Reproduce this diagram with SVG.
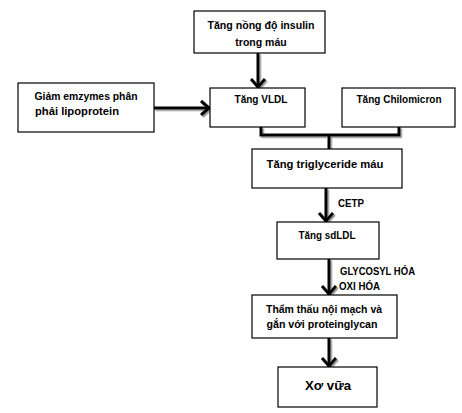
<svg xmlns="http://www.w3.org/2000/svg" width="462" height="413" viewBox="0 0 462 413">
<defs>
<style>
.box{fill:#fff;stroke:#000;stroke-width:1.2}
.t{font-family:"Liberation Sans",Arial,sans-serif;font-weight:bold;font-size:10.5px;fill:#000;text-anchor:middle}
.l{text-anchor:start}
.c{fill:none;stroke:#000;stroke-width:3}
</style>
<marker id="ah" markerUnits="userSpaceOnUse" markerWidth="16" markerHeight="20" viewBox="-12 -10 16 20" refX="0" refY="0" orient="auto">
<path d="M-9,-7 L-1,0 L-9,7" fill="none" stroke="#000" stroke-width="3" stroke-linecap="butt"/>
</marker>
<filter id="sh" x="-20%" y="-20%" width="140%" height="140%">
<feDropShadow dx="1.5" dy="1.5" stdDeviation="0.4" flood-color="#777" flood-opacity="0.8"/>
</filter>
</defs>
<rect width="462" height="413" fill="#fff"/>
<g id="connectors" filter="url(#sh)">
<line class="c" x1="258" y1="53" x2="258" y2="88" marker-end="url(#ah)"/>
<line class="c" x1="154" y1="108" x2="210" y2="108" marker-end="url(#ah)"/>
<path class="c" d="M261,127 V135 H399 V127"/>
<line class="c" x1="329" y1="135" x2="329" y2="149"/>
<line class="c" x1="326" y1="188" x2="326" y2="222" marker-end="url(#ah)"/>
<line class="c" x1="329" y1="259" x2="329" y2="295" marker-end="url(#ah)"/>
<line class="c" x1="329" y1="338" x2="329" y2="367" marker-end="url(#ah)"/>
</g>
<g id="insulin">
<rect class="box" x="194" y="11" width="131" height="42"/>
<text class="t" x="261" y="29" textLength="107" lengthAdjust="spacingAndGlyphs">Tăng nồng độ insulin</text>
<text class="t" x="261" y="46">trong máu</text>
</g>
<g id="giam">
<rect class="box" x="18" y="83" width="136" height="49"/>
<text class="t" x="86" y="100" textLength="103" lengthAdjust="spacingAndGlyphs">Giảm emzymes phân</text>
<text class="t" x="77" y="115" textLength="84" lengthAdjust="spacingAndGlyphs">phải lipoprotein</text>
</g>
<g id="vldl">
<rect class="box" x="210" y="88" width="95" height="39"/>
<text class="t" x="261" y="103" textLength="53" lengthAdjust="spacingAndGlyphs">Tăng VLDL</text>
</g>
<g id="chilomicron">
<rect class="box" x="342" y="88" width="113" height="39"/>
<text class="t" x="399" y="103" textLength="85" lengthAdjust="spacingAndGlyphs">Tăng Chilomicron</text>
</g>
<g id="triglyceride">
<rect class="box" x="252" y="149" width="150" height="39"/>
<text class="t" x="325" y="168" textLength="117" lengthAdjust="spacingAndGlyphs">Tăng  triglyceride máu</text>
</g>
<text class="t l" x="338" y="207" textLength="26" lengthAdjust="spacingAndGlyphs">CETP</text>
<g id="sdldl">
<rect class="box" x="277" y="222" width="102" height="37"/>
<text class="t" x="327" y="239" textLength="57" lengthAdjust="spacingAndGlyphs">Tăng sdLDL</text>
</g>
<text class="t l" x="340" y="275" textLength="75" lengthAdjust="spacingAndGlyphs">GLYCOSYL HÓA</text>
<text class="t l" x="339" y="290" textLength="41" lengthAdjust="spacingAndGlyphs">OXI HÓA</text>
<g id="thamthau">
<rect class="box" x="252" y="295" width="145" height="43"/>
<text class="t" x="324" y="313" textLength="116" lengthAdjust="spacingAndGlyphs">Thẩm thấu nội  mạch và</text>
<text class="t" x="322" y="328" textLength="111" lengthAdjust="spacingAndGlyphs">gắn với proteinglycan</text>
</g>
<g id="xovua">
<rect class="box" x="278" y="367" width="99" height="40"/>
<text class="t" x="328" y="390" style="font-size:13px" textLength="46" lengthAdjust="spacingAndGlyphs">Xơ vữa</text>
</g>
</svg>
